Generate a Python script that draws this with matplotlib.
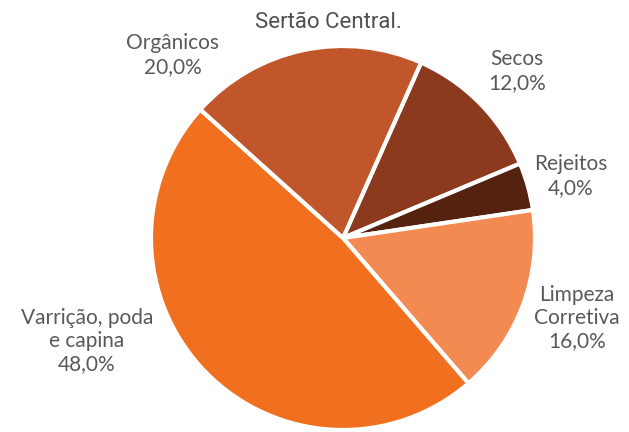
import matplotlib.pyplot as plt

labels = ["Secos", "Rejeitos", "Limpeza\nCorretiva", "Varrição, poda\ne capina", "Orgânicos"]
values = [12.0, 4.0, 16.0, 48.0, 20.0]
colors = ["#8B3A1E", "#55220F", "#F28A52", "#F07020", "#C05629"]

# label centres in pixels of the original picture
label_px = [(517, 71), (571, 176), (577, 318), (87, 341), (173, 55)]

W, H = 629, 432
cx, cy, R = 343, 238, 192

fig = plt.figure(figsize=(W / 100, H / 100), dpi=100)
ax = fig.add_axes([0, 0, 1, 1])
ax.pie(values, colors=colors, startangle=66, counterclock=False, radius=1,
       wedgeprops=dict(edgecolor="white", linewidth=3))
ax.set_xlim(-cx / R, (W - cx) / R)
ax.set_ylim(-(H - cy) / R, cy / R)
ax.set_aspect("equal")
ax.axis("off")

for lab, v, (px, py) in zip(labels, values, label_px):
    ax.text((px - cx) / R, (cy - py) / R, f"{lab}\n{v:.1f}%".replace(".", ","),
            ha="center", va="center", fontsize=15, color="#595959",
            family="Lato", linespacing=1.2)

fig.text(328 / W, 1 - 22 / H, "Sertão Central.", ha="center", va="center",
         fontsize=16, color="#505050", family="Roboto")

fig.savefig("out.png", dpi=100)
